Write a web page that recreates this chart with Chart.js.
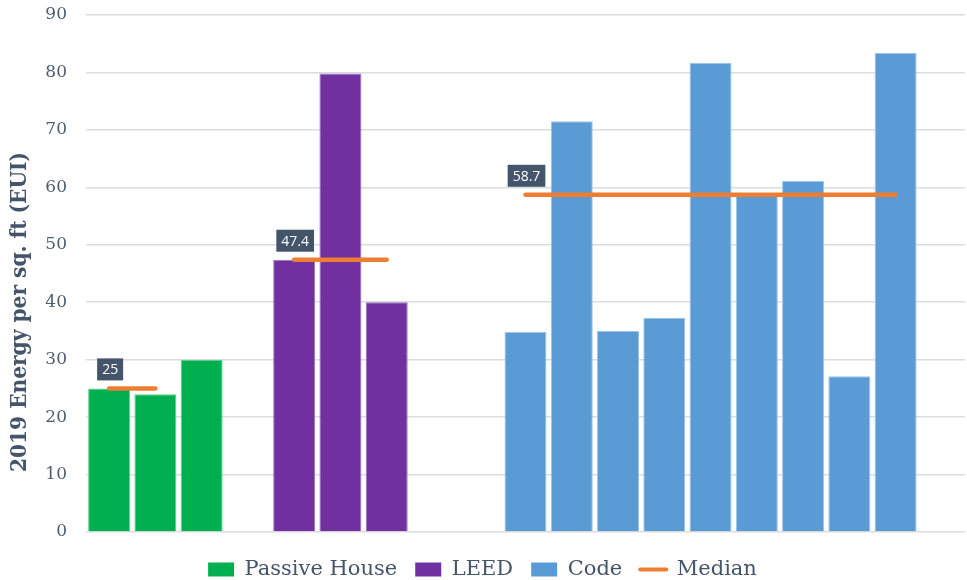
<!DOCTYPE html>
<html>
<head>
<meta charset="utf-8">
<script src="https://cdn.jsdelivr.net/npm/chart.js@4/dist/chart.umd.min.js"></script>
<style>
  html, body { margin: 0; padding: 0; background: #ffffff; }
  #wrap { width: 967px; height: 580px; position: relative; }
</style>
</head>
<body>
<div id="wrap"><canvas id="c"></canvas></div>
<script>
// ---- data ----
const categories = ['PH 1','PH 2','PH 3','', 'LEED 1','LEED 2','LEED 3','','',
  'Code 1','Code 2','Code 3','Code 4','Code 5','Code 6','Code 7','Code 8','Code 9',''];
const passiveHouse = [25, 24, 30, null, null, null, null, null, null,
  null, null, null, null, null, null, null, null, null, null];
const leed = [null, null, null, null, 47.4, 79.8, 40.0, null, null,
  null, null, null, null, null, null, null, null, null, null];
const code = [null, null, null, null, null, null, null, null, null,
  34.8, 71.5, 35.0, 37.3, 81.7, 58.7, 61.1, 27.1, 83.4, null];
const median = [25, 25, null, null, 47.4, 47.4, 47.4, null, null,
  58.7, 58.7, 58.7, 58.7, 58.7, 58.7, 58.7, 58.7, 58.7, null];
const yTicks = [0, 10, 20, 30, 40, 50, 60, 70, 80, 90];
const yTitle = '2019 Energy per sq. ft (EUI)';

const SERIF = '"DejaVu Serif", "Liberation Serif", serif';
const SLATE = '#44546A';

// Median value labels placed above the first point of each median segment
const medianLabelPlugin = {
  id: 'medianLabels',
  afterDatasetsDraw(chart) {
    const dsIndex = chart.data.datasets.findIndex(d => d.isMedian);
    const meta = chart.getDatasetMeta(dsIndex);
    const data = chart.data.datasets[dsIndex].data;
    const ctx = chart.ctx;
    ctx.save();
    ctx.font = '14px "Open Sans", "DejaVu Sans", sans-serif';
    ctx.textAlign = 'center';
    ctx.textBaseline = 'middle';
    for (let i = 0; i < data.length; i++) {
      if (data[i] == null) continue;
      if (i > 0 && data[i - 1] != null) continue;
      const pt = meta.data[i];
      const txt = String(data[i]);
      const w = ctx.measureText(txt).width + 10;
      const h = 22;
      const cx = pt.x + 1, cy = pt.y - 19;
      ctx.fillStyle = SLATE;
      ctx.fillRect(cx - w / 2, cy - h / 2, w, h);
      ctx.fillStyle = '#ffffff';
      ctx.fillText(txt, cx, cy + 1);
    }
    ctx.restore();
  }
};

// vertical axis title (condensed horizontally to match the reference font width)
const yTitlePlugin = {
  id: 'yTitle',
  afterDraw(chart) {
    const ctx = chart.ctx;
    ctx.save();
    ctx.font = 'bold 22px ' + SERIF;
    const tw = ctx.measureText(yTitle).width;
    const target = 320;
    ctx.translate(20, 312);
    ctx.rotate(-Math.PI / 2);
    ctx.scale(Math.min(1, target / tw), 1);
    ctx.fillStyle = SLATE;
    ctx.textAlign = 'center';
    ctx.textBaseline = 'middle';
    ctx.fillText(yTitle, 0, 0);
    ctx.restore();
  }
};

const barCommon = {
  type: 'bar',
  grouped: false,
  categoryPercentage: 1.0,
  barPercentage: 0.908,
  borderWidth: 1,
  borderSkipped: 'bottom'
};

new Chart(document.getElementById('c'), {
  data: {
    labels: categories,
    datasets: [
      Object.assign({}, barCommon, { label: 'Passive House', data: passiveHouse,
        backgroundColor: '#00B050', borderColor: '#5fd08e' }),
      Object.assign({}, barCommon, { label: 'LEED', data: leed,
        backgroundColor: '#7030A0', borderColor: '#9a6cc0' }),
      Object.assign({}, barCommon, { label: 'Code', data: code,
        backgroundColor: '#5B9BD5', borderColor: '#9cc3e8' }),
      { type: 'line', label: 'Median', data: median, isMedian: true, order: -1,
        borderColor: '#ED7D31', backgroundColor: '#ED7D31', borderWidth: 4.5,
        borderCapStyle: 'round', pointRadius: 0, pointHoverRadius: 0,
        spanGaps: false, fill: false, tension: 0 }
    ]
  },
  options: {
    responsive: true,
    maintainAspectRatio: false,
    animation: false,
    events: [],
    layout: { padding: { top: 15, right: 2, bottom: -10, left: 0 } },
    scales: {
      x: {
        type: 'category',
        offset: true,
        afterFit: s => { s.height = 9; },
        grid: { display: false, drawTicks: false },
        border: { display: false },
        ticks: { display: false }
      },
      y: {
        min: 0, max: 90,
        afterBuildTicks: s => { s.ticks = yTicks.map(v => ({ value: v })); },
        afterFit: s => { s.width = 86; },
        grid: { color: '#dcdcdc', lineWidth: 1.5, drawTicks: true, tickLength: 19,
                tickColor: 'rgba(0,0,0,0)' },
        border: { display: false },
        ticks: { padding: 0, color: '#4f5d70', font: { family: SERIF, size: 17 } }
      }
    },
    plugins: {
      tooltip: { enabled: false },
      legend: {
        position: 'bottom',
        labels: {
          usePointStyle: true,
          pointStyleWidth: 26,
          boxHeight: 14,
          padding: 18,
          color: SLATE,
          font: { family: SERIF, size: 21 },
          sort: (a, b) => a.datasetIndex - b.datasetIndex,
          generateLabels(chart) {
            return chart.data.datasets.map((d, i) => ({
              text: d.label,
              datasetIndex: i,
              fillStyle: d.backgroundColor,
              strokeStyle: d.isMedian ? d.borderColor : d.backgroundColor,
              lineWidth: d.isMedian ? 4 : 0,
              lineCap: 'round',
              pointStyle: d.isMedian ? 'line' : 'rect',
              fontColor: SLATE,
              hidden: false
            }));
          }
        }
      }
    }
  },
  plugins: [medianLabelPlugin, yTitlePlugin]
});
</script>
</body>
</html>
